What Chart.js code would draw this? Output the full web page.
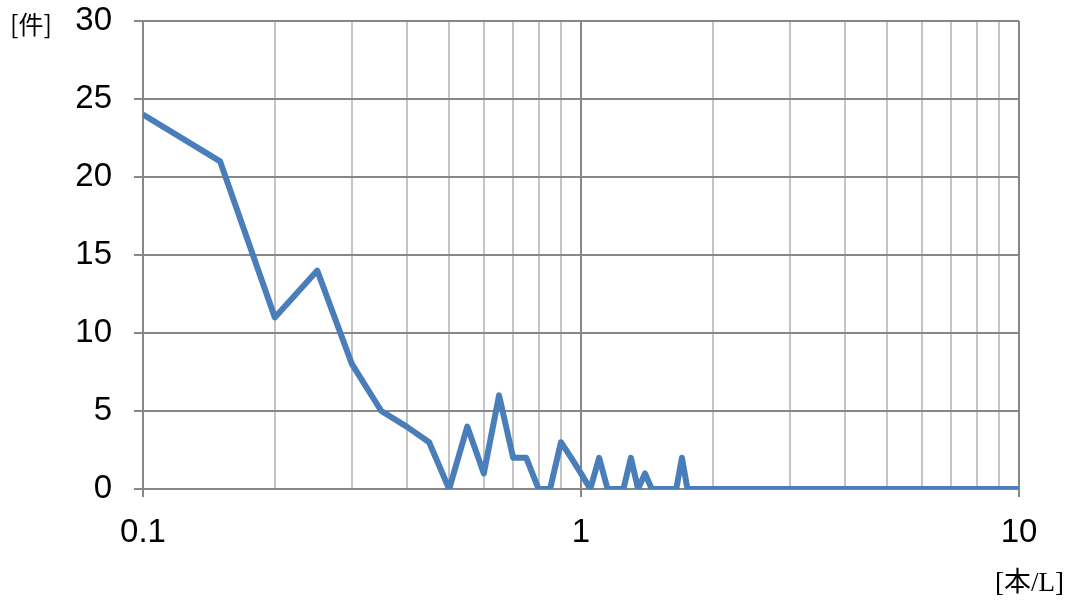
<!DOCTYPE html>
<html>
<head>
<meta charset="utf-8">
<script src="https://cdn.jsdelivr.net/npm/chart.js@4/dist/chart.umd.min.js"></script>
<style>
  body { margin: 0; background: #fff; }
  canvas { display: block; }
</style>
</head>
<body>
<canvas id="myChart" width="1070" height="603"></canvas>
<script>
const ctx = document.getElementById('myChart');

// 濃度 [本/L]
const concentrations = [0.1, 0.15, 0.2, 0.25, 0.3, 0.35, 0.4, 0.45, 0.5, 0.55,
  0.6, 0.65, 0.7, 0.75, 0.8, 0.85, 0.9, 0.95, 1.0, 1.05,
  1.1, 1.15, 1.2, 1.25, 1.3, 1.35, 1.4, 1.45, 1.5, 1.55,
  1.6, 1.65, 1.7, 1.75, 1.8, 1.85, 1.9, 1.95, 2.0,
  3, 4, 5, 6, 7, 8, 9, 10];
// 件数
const counts = [24, 21, 11, 14, 8, 5, 4, 3, 0, 4,
  1, 6, 2, 2, 0, 0, 3, 2, 1, 0,
  2, 0, 0, 0, 2, 0, 1, 0, 0, 0,
  0, 0, 2, 0, 0, 0, 0, 0, 0,
  0, 0, 0, 0, 0, 0, 0, 0];

const gridTicks = [0.1, 0.2, 0.3, 0.4, 0.5, 0.6, 0.7, 0.8, 0.9,
  1, 2, 3, 4, 5, 6, 7, 8, 9, 10];
const majorTicks = [0.1, 1, 10];
const tickLabels = ['0.1', '1', '10'];

const yTitle = '[件]';
const xTitle = '[本/L]';

const darkGrid = '#878787';
const lightGrid = '#c4c4c4';
const lineColor = '#4a7ebb';

const isMajor = v => majorTicks.some(m => Math.abs(m - v) < 1e-9);

const axisTitles = {
  id: 'axisTitles',
  afterDraw(chart) {
    const c = chart.ctx;
    c.save();
    c.fillStyle = '#000';
    c.textBaseline = 'middle';
    c.textAlign = 'left';
    c.font = '25px "Noto Sans CJK JP", "Liberation Sans", sans-serif';
    c.fillText(yTitle, 10, 24);
    c.textAlign = 'right';
    c.font = '27px "Liberation Serif", "Noto Sans CJK JP", serif';
    c.fillText(xTitle, 1064, 584);
    c.restore();
  }
};

const myChart = new Chart(ctx, {
  type: 'line',
  data: {
    datasets: [{
      data: concentrations.map((x, i) => ({ x: x, y: counts[i] })),
      borderColor: lineColor,
      borderWidth: 6,
      borderJoinStyle: 'round',
      pointRadius: 0,
      tension: 0,
      fill: false
    }]
  },
  options: {
    responsive: false,
    animation: false,
    layout: { padding: { left: 0, right: 51, top: 21, bottom: 0 } },
    plugins: {
      legend: { display: false },
      tooltip: { enabled: false }
    },
    scales: {
      x: {
        type: 'logarithmic',
        min: 0.1,
        max: 10,
        afterBuildTicks: scale => {
          scale.ticks = gridTicks.map(v => ({ value: v }));
        },
        afterFit: scale => {
          scale.height = 114;
          scale.paddingLeft = 0;
          scale.paddingRight = 0;
        },
        grid: {
          color: c => isMajor(c.tick.value) ? darkGrid : lightGrid,
          tickColor: c => isMajor(c.tick.value) ? darkGrid : 'rgba(0,0,0,0)',
          lineWidth: 2,
          tickLength: 8
        },
        border: { color: darkGrid, width: 2 },
        ticks: {
          autoSkip: false,
          maxRotation: 0,
          padding: 16,
          color: '#000',
          font: { family: '"Liberation Sans", Arial, sans-serif', size: 33 },
          callback: value => {
            const i = majorTicks.findIndex(m => Math.abs(m - value) < 1e-9);
            return i >= 0 ? tickLabels[i] : '';
          }
        }
      },
      y: {
        min: 0,
        max: 30,
        afterFit: scale => {
          scale.width = 143;
          scale.paddingTop = 0;
          scale.paddingBottom = 0;
        },
        grid: {
          color: darkGrid,
          tickColor: darkGrid,
          lineWidth: 2,
          tickLength: 9
        },
        border: { color: darkGrid, width: 2 },
        ticks: {
          stepSize: 5,
          padding: 22,
          color: '#000',
          font: { family: '"Liberation Sans", Arial, sans-serif', size: 33 }
        }
      }
    }
  },
  plugins: [axisTitles]
});
</script>
</body>
</html>
